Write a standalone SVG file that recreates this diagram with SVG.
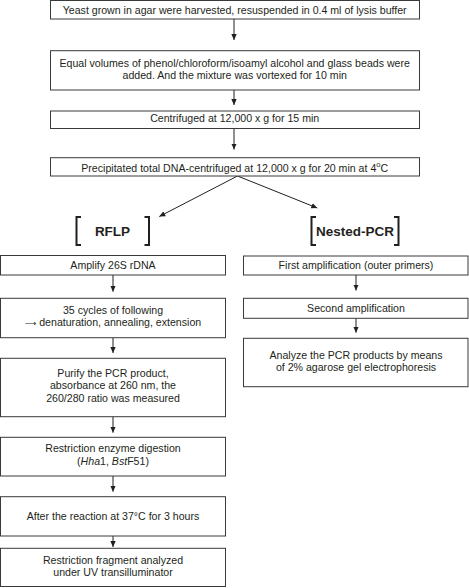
<svg xmlns="http://www.w3.org/2000/svg" width="469" height="588" viewBox="0 0 469 588">
<defs>
<style>
.box{fill:#fff;stroke:#3a3a3a;stroke-width:1}
.t{font-family:"Liberation Sans",Arial,sans-serif;font-size:10.6px;fill:#231f20;text-anchor:middle}
.h{font-family:"Liberation Sans",Arial,sans-serif;font-size:13.5px;font-weight:bold;fill:#231f20;text-anchor:middle}
.c{stroke:#231f20;stroke-width:1;fill:none;marker-end:url(#ah)}
.br{stroke:#231f20;stroke-width:2;fill:none}
.ar{font-family:"DejaVu Sans",sans-serif;font-size:8px}
</style>
<marker id="ah" viewBox="0 0 6 6" refX="6" refY="3" markerWidth="6" markerHeight="6" markerUnits="userSpaceOnUse" orient="auto">
<path d="M0,0.3 L6,3 L0,5.7 z" fill="#231f20"/>
</marker>
</defs>
<rect width="469" height="588" fill="#fff"/>
<g id="connectors">
<line class="c" x1="234" y1="19" x2="234" y2="40"/>
<line class="c" x1="234" y1="90" x2="234" y2="105"/>
<line class="c" x1="234" y1="128.5" x2="234" y2="149.5"/>
<line class="c" x1="237.5" y1="176" x2="159.3" y2="216.5"/>
<line class="c" x1="237.5" y1="176" x2="317.3" y2="208"/>
<line class="c" x1="113" y1="275" x2="113" y2="291.7"/>
<line class="c" x1="113" y1="337.7" x2="113" y2="353"/>
<line class="c" x1="113" y1="416.7" x2="113" y2="432.7"/>
<line class="c" x1="113" y1="476" x2="113" y2="491.7"/>
<line class="c" x1="113" y1="536" x2="113" y2="547"/>
<line class="c" x1="356" y1="275" x2="356" y2="290.5"/>
<line class="c" x1="356" y1="318.3" x2="356" y2="332.7"/>
</g>
<g id="n1"><rect class="box" x="50.5" y="0.5" width="369" height="18.5"/>
<text class="t" x="234.7" y="14">Yeast grown in agar were harvested, resuspended in 0.4 ml of lysis buffer</text></g>
<g id="n2"><rect class="box" x="50.5" y="50.7" width="369" height="39.3"/>
<text class="t" x="234.7" y="67">Equal volumes of phenol/chloroform/isoamyl alcohol and glass beads were</text>
<text class="t" x="234.7" y="79.3">added. And the mixture was vortexed for 10 min</text></g>
<g id="n3"><rect class="box" x="50.5" y="111" width="369" height="17.5"/>
<text class="t" x="234.7" y="121.5">Centrifuged at 12,000 x g for 15 min</text></g>
<g id="n4"><rect class="box" x="50.5" y="157.7" width="369" height="18.3"/>
<text class="t" x="234.7" y="171.5">Precipitated total DNA-centrifuged at 12,000 x g for 20 min at 4<tspan font-size="7.5" dy="-4.5">o</tspan><tspan dy="4.5">C</tspan></text></g>
<g id="rflp">
<path class="br" d="M81,217 H76.5 V245 H81"/>
<path class="br" d="M144.5,217 H149 V245 H144.5"/>
<text class="h" x="112.5" y="236">RFLP</text></g>
<g id="nested">
<path class="br" d="M316,217 H311.5 V245 H316"/>
<path class="br" d="M394,217 H398.5 V245 H394"/>
<text class="h" x="355" y="236">Nested-PCR</text></g>
<g id="l1"><rect class="box" x="0.5" y="255.5" width="225" height="19.5"/>
<text class="t" x="113" y="268.5">Amplify 26S rDNA</text></g>
<g id="l2"><rect class="box" x="0.5" y="298.3" width="225" height="39.4"/>
<text class="t" x="113" y="314">35 cycles of following</text>
<text class="t" x="113" y="326.3"><tspan class="ar">⟶</tspan> denaturation, annealing, extension</text></g>
<g id="l3"><rect class="box" x="0.5" y="358.3" width="225" height="58.4"/>
<text class="t" x="113" y="376.7">Purify the PCR product,</text>
<text class="t" x="113" y="389">absorbance at 260 nm, the</text>
<text class="t" x="113" y="401.5">260/280 ratio was measured</text></g>
<g id="l4"><rect class="box" x="0.5" y="437.3" width="225" height="38.7"/>
<text class="t" x="113" y="452.3">Restriction enzyme digestion</text>
<text class="t" x="113" y="464.7">(<tspan font-style="italic">Hha</tspan>1, <tspan font-style="italic">Bst</tspan>F51)</text></g>
<g id="l5"><rect class="box" x="0.5" y="496.7" width="225" height="39.3"/>
<text class="t" x="113" y="520">After the reaction at 37°C for 3 hours</text></g>
<g id="l6"><rect class="box" x="0.5" y="548.3" width="225" height="38.2"/>
<text class="t" x="113" y="564">Restriction fragment analyzed</text>
<text class="t" x="113" y="576.3">under UV transilluminator</text></g>
<g id="r1"><rect class="box" x="243.5" y="256" width="224.5" height="19"/>
<text class="t" x="356" y="268.5">First amplification (outer primers)</text></g>
<g id="r2"><rect class="box" x="243.5" y="298.3" width="224.5" height="20"/>
<text class="t" x="356" y="311.7">Second amplification</text></g>
<g id="r3"><rect class="box" x="243.5" y="338.3" width="224.5" height="48.4"/>
<text class="t" x="356" y="359.3">Analyze the PCR products by means</text>
<text class="t" x="356" y="371">of 2% agarose gel electrophoresis</text></g>
</svg>
